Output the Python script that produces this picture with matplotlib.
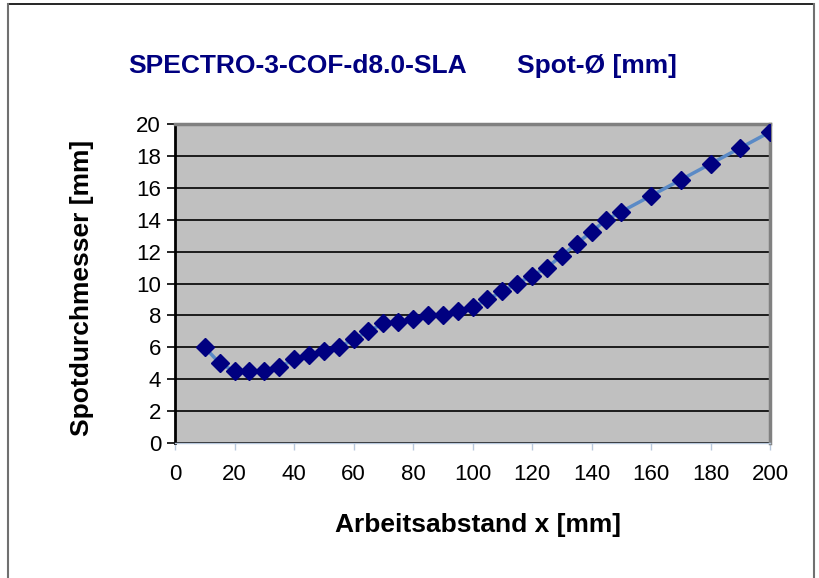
import matplotlib.pyplot as plt
from matplotlib.lines import Line2D

# Arbeitsabstand x [mm] and measured spot diameter [mm]
abstand = [10, 15, 20, 25, 30, 35, 40, 45, 50, 55, 60, 65, 70, 75, 80, 85, 90, 95,
           100, 105, 110, 115, 120, 125, 130, 135, 140, 145, 150,
           160, 170, 180, 190, 200]
spot = [6.0, 5.0, 4.5, 4.5, 4.5, 4.75, 5.25, 5.5, 5.75, 6.0, 6.5, 7.0, 7.5, 7.6, 7.75, 8.0, 8.0, 8.25,
        8.5, 9.0, 9.5, 10.0, 10.5, 11.0, 11.75, 12.5, 13.25, 14.0, 14.5,
        15.5, 16.5, 17.5, 18.5, 19.5]

x_ticks = list(range(0, 201, 20))
y_ticks = list(range(0, 21, 2))

plt.rcParams['font.family'] = ['Liberation Sans', 'DejaVu Sans']

fig = plt.figure(figsize=(8.19, 5.78), dpi=100)
ax = fig.add_axes([175/819, 1 - 443/578, 595/819, 319/578])

ax.set_facecolor('#C0C0C0')
ax.plot(abstand, spot, color='#5A8AC6', linewidth=2.5, zorder=3)
ax.plot(abstand, spot, linestyle='none', marker='D', markersize=9,
        color='#000080', markeredgecolor='#000080', zorder=4)

ax.set_xlim(0, 200)
ax.set_ylim(0, 20)
ax.set_xticks(x_ticks)
ax.set_yticks(y_ticks)
ax.yaxis.grid(True, color='black', linewidth=1.2)
ax.set_axisbelow(True)

ax.tick_params(axis='y', direction='out', length=6, width=1.2, color='black',
               labelsize=16, pad=4)
ax.tick_params(axis='x', direction='out', length=5, width=1, color='#B8C8DC',
               labelsize=16, pad=10)

ax.spines['left'].set_color('black')
ax.spines['left'].set_linewidth(2)
ax.spines['bottom'].set_color('#B8C8DC')
ax.spines['bottom'].set_linewidth(1)
ax.spines['top'].set_color('#808080')
ax.spines['top'].set_linewidth(2.5)
ax.spines['right'].set_color('#808080')
ax.spines['right'].set_linewidth(2.5)

# axis titles placed like the Excel chart
fig.text(478/819, 1 - 525/578, 'Arbeitsabstand x [mm]', ha='center', va='center',
         fontsize=19, fontweight='bold')
fig.text(82/819, 1 - 288/578, 'Spotdurchmesser [mm]', ha='center', va='center',
         rotation=90, fontsize=19, fontweight='bold')

fig.text(128/819, 1 - 66/578, 'SPECTRO-3-COF-d8.0-SLA', ha='left', va='center',
         fontsize=19, fontweight='bold', color='#000080')
fig.text(517/819, 1 - 66/578, 'Spot-Ø [mm]', ha='left', va='center',
         fontsize=19, fontweight='bold', color='#000080')

# chart area border
fig.add_artist(Line2D([8/819, 814/819], [1 - 4/578, 1 - 4/578], color='black', linewidth=1.2))
fig.add_artist(Line2D([8/819, 8/819], [0, 1 - 4/578], color='#707070', linewidth=1.5))
fig.add_artist(Line2D([814/819, 814/819], [0, 1 - 4/578], color='#707070', linewidth=1.5))

fig.savefig('out.png', dpi=100)
